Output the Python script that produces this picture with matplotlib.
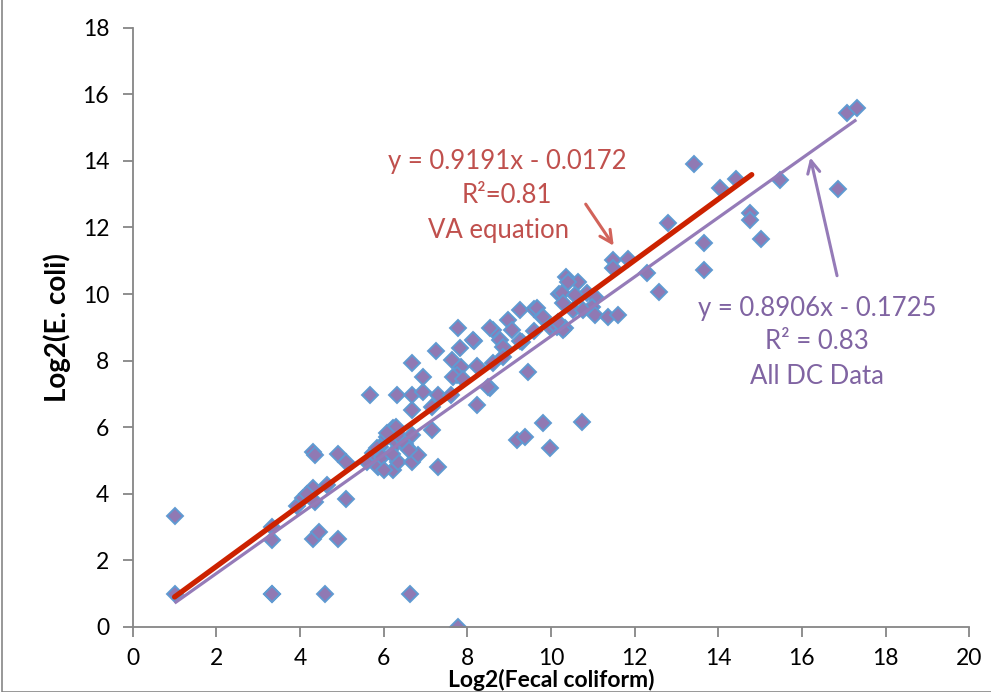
import numpy as np
import matplotlib.pyplot as plt
from matplotlib.patches import Rectangle

plt.rcParams['font.family'] = ['Lato', 'DejaVu Sans']

# Scatter data (log2 values)
fecal = [1.0, 1.0, 3.32, 3.32, 3.32, 3.32, 4.6, 6.64, 7.78,
         4.3, 4.45, 4.9, 5.1, 3.92, 4.07, 4.35, 4.3, 4.64, 4.3, 4.35, 4.9, 5.1, 4.17,
         5.6, 5.74, 5.86, 5.9, 6.08, 6.22, 6.22, 6.32, 6.34, 6.39, 6.55, 6.67, 6.67, 6.82,
         6.67, 7.15, 7.15, 7.3, 5.84, 5.96, 6.3, 6.08, 6.5, 6.6, 6.2, 6.0, 5.67,
         6.32, 6.67, 6.94, 6.94, 7.3, 7.6, 6.67, 7.25, 7.78, 7.82, 7.63, 7.85, 7.75, 8.16,
         8.23, 8.23, 8.54, 8.61, 8.54, 8.13, 8.78, 8.85, 8.61, 8.85, 9.3, 9.45, 7.66, 7.9,
         8.49, 8.97, 9.26, 9.59, 9.67, 9.78, 9.07, 9.25, 9.6, 9.98, 10.14, 10.33, 10.29,
         10.17, 9.81,
         9.19, 9.38, 9.81, 9.98, 10.74,
         10.2, 10.26, 10.36, 10.65, 10.86, 11.05, 10.29, 10.98, 10.53, 10.77, 11.05, 11.36,
         11.6, 10.57, 11.48, 11.48, 11.84, 12.3, 12.58, 12.8, 13.42, 13.66, 13.66, 14.04,
         14.43, 14.76, 14.76, 15.02, 15.48, 16.87, 17.08, 17.32, 10.4]
ecoli = [3.32, 1.0, 3.0, 2.6, 1.0, 1.0, 1.0, 1.0, 0.0,
         2.64, 2.85, 2.64, 3.85, 3.64, 3.88, 3.76, 4.18, 4.25, 5.26, 5.17, 5.2, 4.96, 4.0,
         4.96, 5.23, 4.81, 5.41, 5.71, 4.72, 5.98, 5.53, 4.96, 5.71, 5.41, 5.77, 4.96, 5.17,
         6.52, 6.61, 5.92, 4.81, 5.38, 5.11, 6.0, 5.83, 5.5, 5.3, 5.2, 4.7, 6.97,
         6.97, 6.97, 7.06, 7.51, 6.97, 6.97, 7.93, 8.29, 8.98, 8.38, 8.02, 7.81, 7.57, 8.6,
         7.84, 6.67, 7.18, 8.92, 8.98, 8.62, 8.62, 8.41, 7.93, 8.1, 8.56, 7.66, 7.51, 7.45,
         7.21, 9.22, 9.52, 9.55, 9.58, 9.32, 8.92, 8.6, 8.9, 9.0, 9.01, 8.98, 8.92,
         9.16, 9.32,
         5.62, 5.71, 6.13, 5.38, 6.16,
         10.0, 10.04, 10.52, 10.37, 10.04, 9.92, 9.74, 9.62, 9.52, 9.52, 9.37, 9.32,
         9.37, 9.98, 11.03, 10.79, 11.06, 10.64, 10.07, 12.14, 13.91, 11.54, 10.73, 13.19,
         13.46, 12.44, 12.23, 11.66, 13.43, 13.16, 15.44, 15.6, 10.37]

# trend lines (coefficients from the chart labels)
va_slope, va_int, va_xrange = 0.9191, -0.0172, [1.0, 14.8]
dc_slope, dc_int, dc_xrange = 0.8906, -0.1725, [1.0, 17.3]

fig = plt.figure(figsize=(9.91, 6.92), dpi=100)
ax = fig.add_axes([0.134, 0.094, 0.844, 0.866])

ax.plot(fecal, ecoli, linestyle='none', marker='D', markersize=8.6,
        markerfacecolor='#9079B3', markeredgecolor='#5F9AD2', markeredgewidth=1.4, zorder=2)

xd = np.array(dc_xrange)
ax.plot(xd, dc_slope * xd + dc_int, color='#957BB8', lw=2.3, zorder=3, solid_capstyle='butt')
xv = np.array(va_xrange)
ax.plot(xv, va_slope * xv + va_int, color='#CC2200', lw=3.8, zorder=4, solid_capstyle='round')

# annotations
red_txt = '#C0504D'
pur_txt = '#8064A2'
fs = 18.5
ax.text(8.95, 13.97, 'y = 0.9191x - 0.0172', color=red_txt, fontsize=fs, ha='center', va='center')
ax.text(8.95, 12.95, 'R²=0.81', color=red_txt, fontsize=fs, ha='center', va='center')
ax.text(8.75, 11.9, 'VA equation', color=red_txt, fontsize=fs, ha='center', va='center')
ax.annotate('', xy=(11.5, 11.45), xytext=(10.83, 12.7),
            arrowprops=dict(arrowstyle='->', color='#D2635A', lw=2.2,
                            mutation_scale=22, shrinkA=0, shrinkB=0))

ax.text(16.36, 9.56, 'y = 0.8906x - 0.1725', color=pur_txt, fontsize=fs, ha='center', va='center')
ax.text(16.36, 8.56, 'R² = 0.83', color=pur_txt, fontsize=fs, ha='center', va='center')
ax.text(16.36, 7.51, 'All DC Data', color=pur_txt, fontsize=fs, ha='center', va='center')
ax.annotate('', xy=(16.2, 14.1), xytext=(16.84, 10.55),
            arrowprops=dict(arrowstyle='->', color='#957BB8', lw=2.2,
                            mutation_scale=22, shrinkA=0, shrinkB=0))

ax.set_xlim(0, 20)
ax.set_ylim(0, 18)
ax.set_xticks(np.arange(0, 21, 2))
ax.set_yticks(np.arange(0, 19, 2))
for s in ['top', 'right']:
    ax.spines[s].set_visible(False)
for s in ['left', 'bottom']:
    ax.spines[s].set_color('#868686')
    ax.spines[s].set_linewidth(1.3)
ax.tick_params(axis='both', colors='#868686', labelcolor='black', labelsize=16.5,
               length=7, width=1.3, direction='out')
ax.tick_params(axis='x', pad=8)
ax.tick_params(axis='y', pad=10)
ax.set_xlabel('Log2(Fecal coliform)', fontsize=16.5, fontweight='bold', labelpad=0)
ax.set_ylabel('Log2(E. coli)', fontsize=20, fontweight='bold', labelpad=8)

# outer chart frame
fig.patches.append(Rectangle((0.002, 0.0), 1.2, 1.2, transform=fig.transFigure,
                             fill=False, edgecolor='#868686', lw=1.2))

fig.savefig('out.png', dpi=100)
